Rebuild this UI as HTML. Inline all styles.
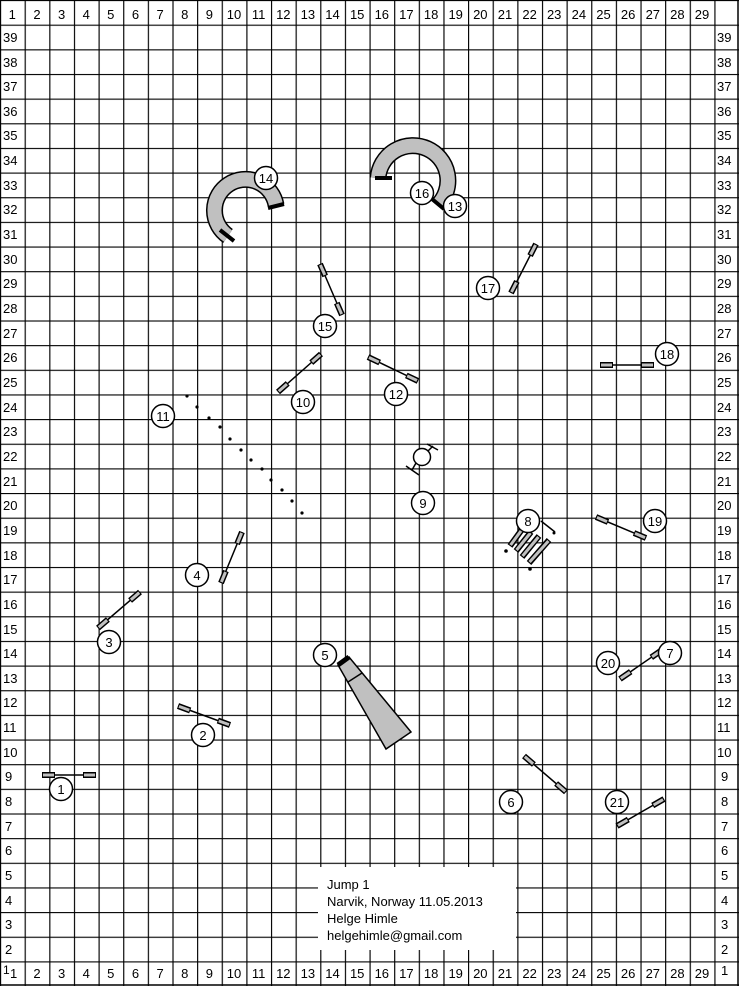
<!DOCTYPE html>
<html><head><meta charset="utf-8"><style>
html,body{margin:0;padding:0;background:#fff}
svg{display:block}
text{font-family:"Liberation Sans",sans-serif;font-size:13px;fill:#000}
.c{text-anchor:middle}
</style></head><body>
<svg width="739" height="986" viewBox="0 0 739 986" xmlns="http://www.w3.org/2000/svg">
<defs>
<pattern id="g" patternUnits="userSpaceOnUse" width="24.633" height="24.65">
<path d="M0 0.5 H24.633 M0.5 0 V24.65" stroke="#000" stroke-width="1.3" fill="none"/>
</pattern>
</defs>
<rect x="0" y="0" width="739" height="986" fill="#fff"/>
<rect x="0" y="0" width="739" height="986" fill="url(#g)"/>
<path d="M738 0 V986 M0 985 H739" stroke="#000" stroke-width="1.5"/>

<g>
<text class="c" x="12.3" y="19">1</text><text class="c" x="37" y="19">2</text><text class="c" x="61.6" y="19">3</text><text class="c" x="86.2" y="19">4</text><text class="c" x="110.8" y="19">5</text><text class="c" x="135.5" y="19">6</text><text class="c" x="160.1" y="19">7</text><text class="c" x="184.7" y="19">8</text><text class="c" x="209.4" y="19">9</text><text class="c" x="234" y="19">10</text><text class="c" x="258.6" y="19">11</text><text class="c" x="283.3" y="19">12</text><text class="c" x="307.9" y="19">13</text><text class="c" x="332.5" y="19">14</text><text class="c" x="357.2" y="19">15</text><text class="c" x="381.8" y="19">16</text><text class="c" x="406.4" y="19">17</text><text class="c" x="431.1" y="19">18</text><text class="c" x="455.7" y="19">19</text><text class="c" x="480.3" y="19">20</text><text class="c" x="505" y="19">21</text><text class="c" x="529.6" y="19">22</text><text class="c" x="554.2" y="19">23</text><text class="c" x="578.9" y="19">24</text><text class="c" x="603.5" y="19">25</text><text class="c" x="628.1" y="19">26</text><text class="c" x="652.8" y="19">27</text><text class="c" x="677.4" y="19">28</text><text class="c" x="702" y="19">29</text>
</g>
<text x="3" y="974" style="font-size:12px">1</text><text x="10" y="978">1</text>
<text class="c" x="37" y="978">2</text><text class="c" x="61.6" y="978">3</text><text class="c" x="86.2" y="978">4</text><text class="c" x="110.8" y="978">5</text><text class="c" x="135.5" y="978">6</text><text class="c" x="160.1" y="978">7</text><text class="c" x="184.7" y="978">8</text><text class="c" x="209.4" y="978">9</text><text class="c" x="234" y="978">10</text><text class="c" x="258.6" y="978">11</text><text class="c" x="283.3" y="978">12</text><text class="c" x="307.9" y="978">13</text><text class="c" x="332.5" y="978">14</text><text class="c" x="357.2" y="978">15</text><text class="c" x="381.8" y="978">16</text><text class="c" x="406.4" y="978">17</text><text class="c" x="431.1" y="978">18</text><text class="c" x="455.7" y="978">19</text><text class="c" x="480.3" y="978">20</text><text class="c" x="505" y="978">21</text><text class="c" x="529.6" y="978">22</text><text class="c" x="554.2" y="978">23</text><text class="c" x="578.9" y="978">24</text><text class="c" x="603.5" y="978">25</text><text class="c" x="628.1" y="978">26</text><text class="c" x="652.8" y="978">27</text><text class="c" x="677.4" y="978">28</text><text class="c" x="702" y="978">29</text><text x="721" y="975">1</text>

<g>
<text x="3" y="42">39</text><text x="3" y="67">38</text><text x="3" y="91">37</text><text x="3" y="116">36</text><text x="3" y="140">35</text><text x="3" y="165">34</text><text x="3" y="190">33</text><text x="3" y="214">32</text><text x="3" y="239">31</text><text x="3" y="264">30</text><text x="3" y="288">29</text><text x="3" y="313">28</text><text x="3" y="338">27</text><text x="3" y="362">26</text><text x="3" y="387">25</text><text x="3" y="412">24</text><text x="3" y="436">23</text><text x="3" y="461">22</text><text x="3" y="486">21</text><text x="3" y="510">20</text><text x="3" y="535">19</text><text x="3" y="560">18</text><text x="3" y="584">17</text><text x="3" y="609">16</text><text x="3" y="634">15</text><text x="3" y="658">14</text><text x="3" y="683">13</text><text x="3" y="707">12</text><text x="3" y="732">11</text><text x="3" y="757">10</text><text x="5" y="781">9</text><text x="5" y="806">8</text><text x="5" y="831">7</text><text x="5" y="855">6</text><text x="5" y="880">5</text><text x="5" y="905">4</text><text x="5" y="929">3</text><text x="5" y="954">2</text>
</g>
<g transform="translate(716,0)">
<text x="1" y="42">39</text><text x="1" y="67">38</text><text x="1" y="91">37</text><text x="1" y="116">36</text><text x="1" y="140">35</text><text x="1" y="165">34</text><text x="1" y="190">33</text><text x="1" y="214">32</text><text x="1" y="239">31</text><text x="1" y="264">30</text><text x="1" y="288">29</text><text x="1" y="313">28</text><text x="1" y="338">27</text><text x="1" y="362">26</text><text x="1" y="387">25</text><text x="1" y="412">24</text><text x="1" y="436">23</text><text x="1" y="461">22</text><text x="1" y="486">21</text><text x="1" y="510">20</text><text x="1" y="535">19</text><text x="1" y="560">18</text><text x="1" y="584">17</text><text x="1" y="609">16</text><text x="1" y="634">15</text><text x="1" y="658">14</text><text x="1" y="683">13</text><text x="1" y="707">12</text><text x="1" y="732">11</text><text x="1" y="757">10</text><text x="5" y="781">9</text><text x="5" y="806">8</text><text x="5" y="831">7</text><text x="5" y="855">6</text><text x="5" y="880">5</text><text x="5" y="905">4</text><text x="5" y="929">3</text><text x="5" y="954">2</text>
</g>

<rect x="318" y="867" width="198" height="83" fill="#fff"/>
<text x="327" y="889">Jump 1</text>
<text x="327" y="906">Narvik, Norway 11.05.2013</text>
<text x="327" y="923">Helge Himle</text>
<text x="327" y="940">helgehimle@gmail.com</text>

<path d="M228 236 A31 31 0 1 1 276 205" fill="none" stroke="#000" stroke-width="17"/>
<path d="M228 236 A31 31 0 1 1 276 205" fill="none" stroke="#c0c0c0" stroke-width="14"/>
<path d="M220 230 L234 241 M268 208 L284 204" stroke="#000" stroke-width="4"/>
<path d="M378 178 A35 35 0 1 1 438 205" fill="none" stroke="#000" stroke-width="17"/>
<path d="M378 178 A35 35 0 1 1 438 205" fill="none" stroke="#c0c0c0" stroke-width="14"/>
<path d="M375 178 L392 178 M432 199 L444 209" stroke="#000" stroke-width="4"/>
<polygon points="338,665 349,657 411,732 386,749" fill="#c0c0c0" stroke="#000" stroke-width="1.5"/>
<path d="M338 665 L349 657" stroke="#000" stroke-width="5"/>
<path d="M348 682 L362 673" stroke="#000" stroke-width="1.5"/>

<g stroke="#000" stroke-width="1.5">
<line x1="42" y1="775" x2="96" y2="775"/><line x1="178" y1="706" x2="230" y2="725"/><line x1="98" y1="628" x2="140" y2="592"/><line x1="221" y1="583" x2="242" y2="532"/><line x1="524" y1="756" x2="566" y2="792"/><line x1="620" y1="679" x2="662" y2="650"/><line x1="278" y1="392" x2="321" y2="354"/><line x1="368" y1="357" x2="418" y2="381"/><line x1="320" y1="264" x2="342" y2="315"/><line x1="511" y1="293" x2="536" y2="244"/><line x1="600" y1="365" x2="654" y2="365"/><line x1="596" y1="517" x2="646" y2="538"/><line x1="617" y1="826" x2="664" y2="799"/>
</g>
<g fill="none">
<path stroke="#000" stroke-width="6" d="M42 775 L55 775 M83 775 L96 775 M178 706 L190.2 710.5 M217.8 720.5 L230 725 M98 628 L107.9 619.5 M130.1 600.5 L140 592 M221 583 L225.9 571 M237.1 544 L242 532 M524 756 L533.9 764.5 M556.1 783.5 L566 792 M620 679 L630.7 671.6 M651.3 657.4 L662 650 M278 392 L287.7 383.4 M311.3 362.6 L321 354 M368 357 L379.7 362.6 M406.3 375.4 L418 381 M320 264 L325.2 276 M336.8 303 L342 315 M511 293 L516.9 281.4 M530.1 255.6 L536 244 M600 365 L613 365 M641 365 L654 365 M596 517 L608 522 M634 533 L646 538 M617 826 L628.3 819.5 M652.7 805.5 L664 799"/>
<path stroke="#c0c0c0" stroke-width="3" d="M43 775 L54 775 M84 775 L95 775 M179 706.4 L189.3 710.2 M218.7 720.9 L229 724.6 M98.8 627.3 L107.1 620.2 M130.9 599.8 L139.2 592.7 M221.4 582 L225.5 572 M237.5 543 L241.6 533 M524.8 756.7 L533.1 763.8 M556.9 784.2 L565.2 791.3 M620.8 678.4 L629.9 672.2 M652.1 656.8 L661.2 650.6 M278.8 391.3 L286.9 384.1 M312.1 361.9 L320.2 354.7 M369 357.5 L378.8 362.1 M407.2 375.9 L417 380.5 M320.4 265 L324.8 275 M337.2 304 L341.6 314 M511.5 292 L516.4 282.4 M530.6 254.6 L535.5 245 M601 365 L612 365 M642 365 L653 365 M597 517.4 L607 521.6 M635 533.4 L645 537.6 M618 825.4 L627.4 820 M653.6 805 L663 799.6"/>
</g>

<g>
<path stroke="#000" stroke-width="6" d="M510 546 L523 528 M516 551 L531 532 M522 557 L539 536 M529 563 L549 540"/>
<path stroke="#c0c0c0" stroke-width="3" d="M510.6 545 L522.4 529 M516.6 550 L530.4 533 M522.6 556 L538.4 537 M529.6 562 L548.4 541"/>
</g>
<path d="M541 521 L555 532" stroke="#000" stroke-width="1.5"/>
<circle cx="506" cy="551" r="1.8"/><circle cx="530" cy="569" r="1.8"/><circle cx="554" cy="533" r="1.5"/>

<circle cx="422" cy="457" r="8.5" fill="#fff" stroke="#000" stroke-width="1.5"/>
<path d="M428 451 L433 446 M427 444 L438 450 M416 463 L412 470 M406 466 L419 475" stroke="#000" stroke-width="1.5"/>

<g fill="#000">
<circle cx="187" cy="396" r="1.6"/><circle cx="197" cy="407" r="1.6"/><circle cx="209" cy="418" r="1.6"/><circle cx="220" cy="427" r="1.6"/><circle cx="230" cy="439" r="1.6"/><circle cx="241" cy="450" r="1.6"/><circle cx="251" cy="460" r="1.6"/><circle cx="262" cy="469" r="1.6"/><circle cx="271" cy="480" r="1.6"/><circle cx="282" cy="490" r="1.6"/><circle cx="292" cy="501" r="1.6"/><circle cx="302" cy="513" r="1.6"/>
</g>

<g fill="#fff" stroke="#000" stroke-width="1.5">
<circle cx="61" cy="789" r="11.5"/><circle cx="203" cy="735" r="11.5"/><circle cx="109" cy="642" r="11.5"/><circle cx="197" cy="575" r="11.5"/><circle cx="325" cy="655" r="11.5"/><circle cx="511" cy="802" r="11.5"/><circle cx="670" cy="653" r="11.5"/><circle cx="528" cy="521" r="11.5"/><circle cx="423" cy="503" r="11.5"/><circle cx="303" cy="402" r="11.5"/><circle cx="163" cy="416" r="11.5"/><circle cx="396" cy="394" r="11.5"/><circle cx="455" cy="206" r="11.5"/><circle cx="266" cy="178" r="11.5"/><circle cx="325" cy="326" r="11.5"/><circle cx="422" cy="193" r="11.5"/><circle cx="488" cy="288" r="11.5"/><circle cx="667" cy="354" r="11.5"/><circle cx="655" cy="521" r="11.5"/><circle cx="608" cy="663" r="11.5"/><circle cx="617" cy="802" r="11.5"/>
</g>
<g>
<text class="c" x="61" y="794">1</text><text class="c" x="203" y="740">2</text><text class="c" x="109" y="647">3</text><text class="c" x="197" y="580">4</text><text class="c" x="325" y="660">5</text><text class="c" x="511" y="807">6</text><text class="c" x="670" y="658">7</text><text class="c" x="528" y="526">8</text><text class="c" x="423" y="508">9</text><text class="c" x="303" y="407">10</text><text class="c" x="163" y="421">11</text><text class="c" x="396" y="399">12</text><text class="c" x="455" y="211">13</text><text class="c" x="266" y="183">14</text><text class="c" x="325" y="331">15</text><text class="c" x="422" y="198">16</text><text class="c" x="488" y="293">17</text><text class="c" x="667" y="359">18</text><text class="c" x="655" y="526">19</text><text class="c" x="608" y="668">20</text><text class="c" x="617" y="807">21</text>
</g>
</svg>
</body></html>
